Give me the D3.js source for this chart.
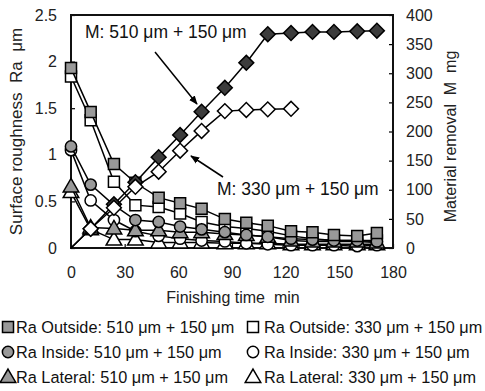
<!DOCTYPE html>
<html>
<head>
<meta charset="utf-8">
<script src="https://cdn.jsdelivr.net/npm/d3@7"></script>
<style>
  body { margin: 0; background: #fff; }
  svg { display: block; font-family: "Liberation Sans", Arial, sans-serif; }
  text { white-space: pre; }
</style>
</head>
<body>
<div id="chart"></div>
<script>
// finishing time, min
const times = [0, 11, 24, 36, 49, 61, 73, 86, 98, 110, 123, 135, 147, 160, 171];

// surface roughness Ra, um
const raOut510 = [1.93, 1.46, 0.90, 0.70, 0.54, 0.48, 0.42, 0.31, 0.27, 0.24, 0.18, 0.17, 0.14, 0.13, 0.16];
const raOut330 = [1.84, 1.37, 0.71, 0.46, 0.44, 0.37, 0.28, 0.23, 0.21, 0.18, 0.13, 0.10, 0.08, 0.08, 0.08];
const raIn510 = [1.09, 0.68, 0.46, 0.30, 0.28, 0.23, 0.20, 0.17, 0.14, 0.12, 0.10, 0.09, 0.08, 0.08, 0.07];
const raIn330 = [1.05, 0.51, 0.30, 0.18, 0.13, 0.10, 0.08, 0.07, 0.05, 0.04, 0.03, 0.03, 0.03, 0.02, 0.03];
const raLat510 = [0.66, 0.22, 0.21, 0.19, 0.19, 0.17, 0.17, 0.15, 0.14, 0.12, 0.08, 0.07, 0.07, 0.07, 0.06];
const raLat330 = [0.60, 0.20, 0.09, 0.09, 0.06, 0.06, 0.06, 0.05, 0.05, 0.05, 0.04, 0.04, 0.04, 0.04, 0.04];

// material removal M, mg
const m510 = [0, 33, 75, 113, 156, 194, 234, 275, 318, 367, 369, 371, 371, 372, 373];
const m330 = [0, 33, 69, 105, 131, 167, 201, 235, 237, 238, 239];

const xTicks = [0, 30, 60, 90, 120, 150, 180];
const raTicks = [0, 0.5, 1, 1.5, 2, 2.5];
const mTicks = [0, 50, 100, 150, 200, 250, 300, 350, 400];

const W = 485, H = 391;
const pL = 71, pR = 393, pT = 15, pB = 248;
const GRAY = "#999999", DARK = "#3c3c3c";

const svg = d3.select("#chart").append("svg").attr("width", W).attr("height", H);

const x = d3.scaleLinear().domain([0, 180]).range([pL, pR]);
const yRa = d3.scaleLinear().domain([0, 2.5]).range([pB, pT]);
const yM = d3.scaleLinear().domain([0, 400]).range([pB, pT]);

// axes, ticks pointing inward
function styleAxis(g) {
    g.select(".domain").remove();
    g.selectAll("line").attr("stroke", "#000").attr("stroke-width", 1.2);
    g.selectAll("text").attr("font-size", 16).attr("fill", "#222").attr("font-family", null);
}
svg.append("g").attr("transform", `translate(${pL},0)`)
    .call(d3.axisLeft(yRa).tickValues(raTicks).tickSize(-4).tickPadding(14).tickFormat(d => d))
    .call(styleAxis);
svg.append("g").attr("transform", `translate(${pR},0)`)
    .call(d3.axisRight(yM).tickValues(mTicks).tickSize(-4).tickPadding(13))
    .call(styleAxis);
svg.append("g").attr("transform", `translate(0,${pB})`)
    .call(d3.axisBottom(x).tickValues(xTicks).tickSize(-4).tickPadding(19))
    .call(styleAxis);

// frame
svg.append("rect").attr("x", pL).attr("y", pT)
    .attr("width", pR - pL).attr("height", pB - pT)
    .attr("fill", "none").attr("stroke", "#111").attr("stroke-width", 2);

// marker shapes
const sym = {
    square: d3.symbol().type(d3.symbolSquare).size(121),
    circle: d3.symbol().type(d3.symbolCircle).size(100),
    triangle: d3.symbol().type(d3.symbolTriangle).size(105),
    diamond: d3.symbol().type(d3.symbolSquare).size(110)
};

function drawSeries(xs, ys, yScale, shape, fill, skipFirst) {
    const pts = ys.map((v, i) => [xs[i], v]);
    svg.append("path").datum(pts)
        .attr("fill", "none").attr("stroke", "#000").attr("stroke-width", 1.5)
        .attr("d", d3.line().x(d => x(d[0])).y(d => yScale(d[1])));
    const mk = skipFirst ? pts.slice(1) : pts;
    svg.append("g").selectAll("path").data(mk).join("path")
        .attr("d", sym[shape])
        .attr("transform", d => `translate(${x(d[0])},${yScale(d[1]) + (shape === "triangle" ? 1 : 0)})${shape === "diamond" ? " rotate(45)" : ""}`)
        .attr("fill", fill).attr("stroke", "#000").attr("stroke-width", 1.5);
}

drawSeries(times, raLat330, yRa, "triangle", "#fff");
drawSeries(times, raIn330, yRa, "circle", "#fff");
drawSeries(times, raOut330, yRa, "square", "#fff");
drawSeries(times, raLat510, yRa, "triangle", GRAY);
drawSeries(times, raIn510, yRa, "circle", GRAY);
drawSeries(times, raOut510, yRa, "square", GRAY);
drawSeries(times, m510, yM, "diamond", DARK, true);
drawSeries(times.slice(0, m330.length), m330, yM, "diamond", "#fff", true);

// annotations with arrows
svg.append("defs").append("marker").attr("id", "arr")
    .attr("viewBox", "0 0 10 10").attr("refX", 9).attr("refY", 5)
    .attr("markerWidth", 9).attr("markerHeight", 9).attr("orient", "auto")
    .attr("markerUnits", "userSpaceOnUse")
    .append("path").attr("d", "M0,1 L10,5 L0,9 Z").attr("fill", "#000");

svg.append("line").attr("x1", 155).attr("y1", 52).attr("x2", 197).attr("y2", 104)
    .attr("stroke", "#000").attr("stroke-width", 1.5).attr("marker-end", "url(#arr)");
svg.append("line").attr("x1", 223).attr("y1", 177).attr("x2", 191).attr("y2", 156)
    .attr("stroke", "#000").attr("stroke-width", 1.5).attr("marker-end", "url(#arr)");

svg.append("text").attr("x", 85).attr("y", 38).attr("font-size", 17.5).attr("fill", "#111")
    .text("M: 510 μm + 150 μm");
svg.append("text").attr("x", 217).attr("y", 195).attr("font-size", 17.5).attr("fill", "#111")
    .text("M: 330 μm + 150 μm");

// axis titles
svg.append("text").attr("transform", `translate(22,${(pT + pB) / 2}) rotate(-90)`)
    .attr("text-anchor", "middle").attr("font-size", 17).attr("fill", "#222")
    .text("Surface roughness  Ra  μm");
svg.append("text").attr("transform", `translate(456,${(pT + pB) / 2 + 5}) rotate(-90)`)
    .attr("text-anchor", "middle").attr("font-size", 16).attr("fill", "#222")
    .text("Material removal  M  mg");
svg.append("text").attr("x", 233).attr("y", 303).attr("text-anchor", "middle")
    .attr("font-size", 16).attr("fill", "#222").text("Finishing time  min");

// legend
const legendItems = [
    { shape: "square", fill: GRAY, label: "Ra Outside: 510 μm + 150 μm", col: 0, row: 0 },
    { shape: "square", fill: "#fff", label: "Ra Outside: 330 μm + 150 μm", col: 1, row: 0 },
    { shape: "circle", fill: GRAY, label: "Ra Inside: 510 μm + 150 μm", col: 0, row: 1 },
    { shape: "circle", fill: "#fff", label: "Ra Inside: 330 μm + 150 μm", col: 1, row: 1 },
    { shape: "triangle", fill: GRAY, label: "Ra Lateral: 510 μm + 150 μm", col: 0, row: 2 },
    { shape: "triangle", fill: "#fff", label: "Ra Lateral: 330 μm + 150 μm", col: 1, row: 2 }
];
const colX = [8, 253], textX = [16, 264], rowY = [327, 352, 377];
const lg = svg.append("g").selectAll("g").data(legendItems).join("g");
lg.append("path")
    .attr("d", d => sym[d.shape]())
    .attr("transform", d => `translate(${colX[d.col]},${rowY[d.row] + (d.shape === "triangle" ? 1 : 0)})`)
    .attr("fill", d => d.fill).attr("stroke", "#000").attr("stroke-width", 1.5);
lg.append("text")
    .attr("x", d => textX[d.col]).attr("y", d => rowY[d.row] + 6)
    .attr("font-size", 16.3).attr("fill", "#111")
    .text(d => d.label);
</script>
</body>
</html>
